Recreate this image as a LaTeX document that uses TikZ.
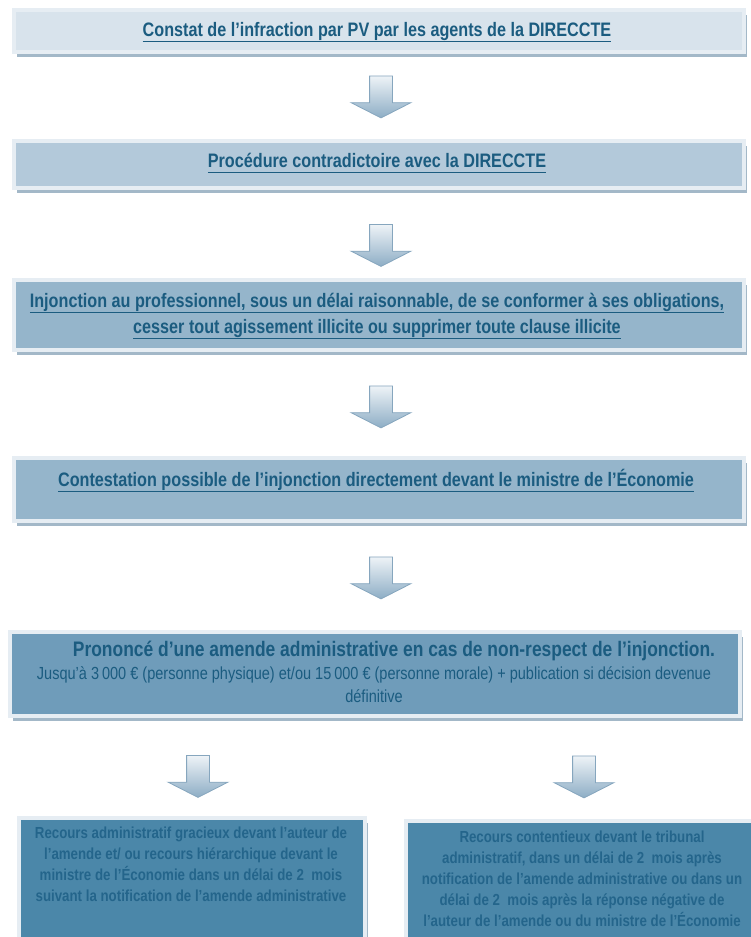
\documentclass[tikz,border=0pt]{standalone}
\usepackage{fontspec}
\setmainfont{Liberation Sans}[FakeStretch=0.83]
\usetikzlibrary{shapes.arrows,shadows,positioning}
\definecolor{txtblue}{HTML}{1B5C80}
\definecolor{txtdeep}{HTML}{24658B}
\definecolor{boxrim}{HTML}{E6EDF3}
\definecolor{boxshade}{HTML}{A3B8C8}
\definecolor{fillA}{HTML}{D8E3EC}
\definecolor{fillB}{HTML}{B3C9DA}
\definecolor{fillC}{HTML}{95B5CB}
\definecolor{fillE}{HTML}{6F9CBA}
\definecolor{fillF}{HTML}{4B87A9}
\definecolor{arrowtop}{HTML}{EEF3F7}
\definecolor{arrowbot}{HTML}{8DADC5}
\definecolor{arrowrim}{HTML}{86A6BE}
\newsavebox{\ulsave}
\newcommand{\uln}[1]{\sbox{\ulsave}{#1}\leavevmode\rlap{\rule[-6pt]{\wd\ulsave}{1.5pt}}\usebox{\ulsave}}
\begin{document}
\begin{tikzpicture}[x=1pt,y=-1pt,
every node/.style={inner sep=0pt},
box/.style={rectangle,draw=boxrim,line width=4pt,minimum width=730pt,
  drop shadow={shadow xshift=2.5pt,shadow yshift=-5pt,fill=boxshade,opacity=1}},
downarrow/.style={single arrow,shape border rotate=270,draw=arrowrim,line width=.8pt,
  top color=arrowtop,bottom color=arrowbot,inner sep=11pt,minimum height=42pt,
  minimum width=59pt,single arrow head extend=18.5pt,single arrow tip angle=126},
headtxt/.style={text=txtblue,font=\bfseries\fontsize{19.5}{26}\selectfont,align=center},
smalltxt/.style={text=txtdeep,font=\bfseries\fontsize{16}{21}\selectfont,align=center}]
\useasboundingbox (0,0) rectangle (750,937);
\node[box,fill=fillA,minimum height=42pt] (B1) at (379,31) {};
\node[box,fill=fillB,minimum height=47pt] (B2) at (379,164.5) {};
\node[box,fill=fillC,minimum height=70pt] (B3) at (379,315) {};
\node[box,fill=fillC,minimum height=63pt] (B4) at (379,489.5) {};
\node[box,fill=fillE,minimum height=84pt] (B5) at (375,674) {};
\node[box,fill=fillF,minimum width=346pt,minimum height=142pt] (B6) at (192,889) {};
\node[box,fill=fillF,minimum width=352pt,minimum height=139pt] (B7) at (582,890.5) {};
\node[headtxt,anchor=base] (T1) at (377,36) {\uln{Constat de l’infraction par PV par les agents de la DIRECCTE}};
\node[headtxt,anchor=base] (T2) at (377,167) {\uln{Procédure contradictoire avec la DIRECCTE}};
\node[headtxt,anchor=north] (T3) at (377,292.5) {\uln{Injonction au professionnel, sous un délai raisonnable, de se conformer à ses obligations,}\\
  \uln{cesser tout agissement illicite ou supprimer toute clause illicite}};
\node[headtxt,anchor=base] (T4) at (376,486) {\uln{Contestation possible de l’injonction directement devant le ministre de l’Économie}};
\node[text=txtblue,font=\fontsize{17.5}{23}\selectfont,align=center,anchor=north] (T5) at (374,641)
  {\hspace*{40pt}{\bfseries\fontsize{21}{23}\selectfont Prononcé d’une amende administrative en cas de non-respect de l’injonction.}\\
  Jusqu’à 3\,000 € (personne physique) et/ou 15\,000 € (personne morale) + publication si décision devenue\\
  définitive};
\node[smalltxt,anchor=north] (T6) at (191,826.5) {Recours administratif gracieux devant l’auteur de\\
  l’amende et/ ou recours hiérarchique devant le\\
  ministre de l’Économie dans un délai de 2~ mois\\
  suivant la notification de l’amende administrative};
\node[smalltxt,anchor=north] (T7) at (582,830.5) {Recours contentieux devant le tribunal\\
  administratif, dans un délai de 2~ mois après\\
  notification de l’amende administrative ou dans un\\
  délai de 2~ mois après la réponse négative de\\
  l’auteur de l’amende ou du ministre de l’Économie};
\node[downarrow] (D1) at (381,94) {};
\node[downarrow] (D2) at (381,242.5) {};
\node[downarrow] (D3) at (381,404) {};
\node[downarrow] (D4) at (381,575) {};
\node[downarrow] (D5) at (198,773.5) {};
\node[downarrow] (D6) at (584,774) {};
\end{tikzpicture}
\end{document}
